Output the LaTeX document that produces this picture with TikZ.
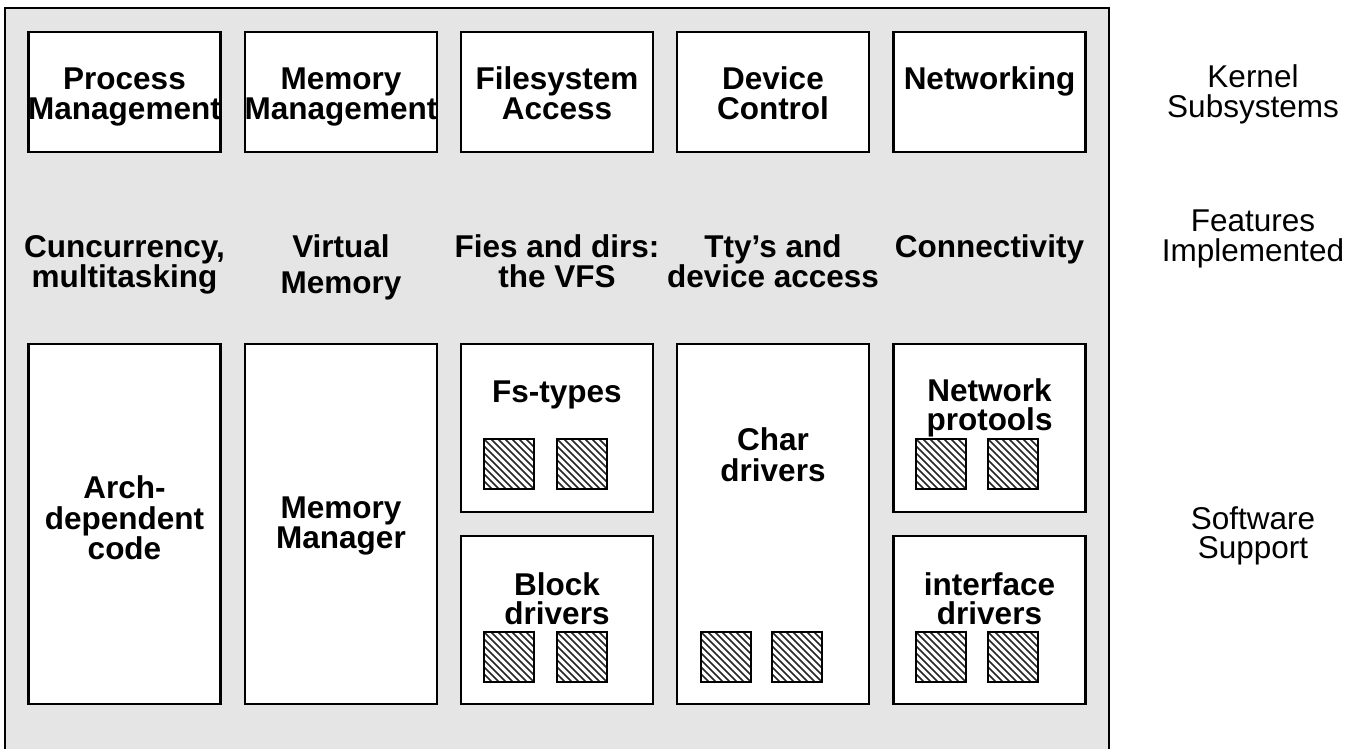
\documentclass[tikz,border=0pt]{standalone}
\usepackage{fontspec}
\setmainfont{Liberation Sans}
\definecolor{bggray}{RGB}{229,229,229}
\newcommand\firststrut{\rule{0pt}{24pt}}
\tikzset{
  box/.style={draw=black, line width=2.5pt, fill=white, inner sep=0pt, outer sep=0pt, minimum width=192pt},
  hatchbox/.style={draw=black, line width=2.2pt, fill=white, inner sep=0pt, outer sep=0pt,
    minimum width=50pt, minimum height=50pt,
    path picture={\foreach \k in {-56,-49,...,56} {\draw[line width=1.6pt, black!85]
      ([xshift=\k pt]path picture bounding box.north west) -- ++(60pt,-60pt);}}},
  lbl/.style={anchor=north, inner sep=0pt, outer sep=0pt, align=center,
    font=\fontsize{31.5}{29}\selectfont\bfseries},
  side/.style={anchor=north, inner sep=0pt, outer sep=0pt, align=center,
    font=\fontsize{31.5}{29.5}\selectfont},
}
\begin{document}
\lineskiplimit=-50pt
\begin{tikzpicture}[x=1pt,y=-1pt]
\useasboundingbox (0,0) rectangle (1361,749);
\clip (0,0) rectangle (1361,749);
\fill[white] (0,0) rectangle (1361,749);
% outer frame
\node[draw=black, line width=2.5pt, fill=bggray, inner sep=0pt, minimum width=1104pt, minimum height=800pt] (frame) at (557,408) {};

% top row
\node[box, minimum height=120pt] (pm) at (124.5,92) {};
\node[box, minimum height=120pt] (mm) at (341,92) {};
\node[box, minimum height=120pt] (fa) at (557,92) {};
\node[box, minimum height=120pt] (dc) at (773,92) {};
\node[box, minimum height=120pt] (nw) at (989.5,92) {};

% bottom row
\node[box, minimum height=360pt] (arch) at (124.5,524) {};
\node[box, minimum height=360pt] (mman) at (341,524) {};
\node[box, minimum height=168pt] (fst) at (557,428) {};
\node[box, minimum height=168pt] (blk) at (557,620) {};
\node[box, minimum height=360pt] (chr) at (773,524) {};
\node[box, minimum height=168pt] (np) at (989.5,428) {};
\node[box, minimum height=168pt] (ifd) at (989.5,620) {};

% hatched squares
\node[hatchbox] (h1) at (509,464) {};
\node[hatchbox] (h2) at (582,464) {};
\node[hatchbox] (h3) at (509,657) {};
\node[hatchbox] (h4) at (582,657) {};
\node[hatchbox] (h5) at (726,657) {};
\node[hatchbox] (h6) at (797,657) {};
\node[hatchbox] (h7) at (941,464) {};
\node[hatchbox] (h8) at (1013,464) {};
\node[hatchbox] (h9) at (941,657) {};
\node[hatchbox] (h10) at (1013,657) {};

% top row texts (first baseline 90)
\node[lbl] (tpm) at (124.5,66) {\firststrut Process\\[1pt]Management};
\node[lbl] (tmm) at (341,66) {\firststrut Memory\\[1pt]Management};
\node[lbl] (tfa) at (557,66) {\firststrut Filesystem\\[1pt]Access};
\node[lbl] (tdc) at (773,66) {\firststrut Device\\[1pt]Control};
\node[lbl] (tnw) at (989.5,66) {\firststrut Networking};

% features row (first baseline 257)
\node[lbl] (f1) at (124.5,233) {\firststrut Cuncurrency,\\[1pt]multitasking};
\node[lbl] (f2) at (341,233) {\firststrut Virtual\\[7pt]Memory};
\node[lbl] (f3) at (557,233) {\firststrut Fies and dirs:\\[1pt]the VFS};
\node[lbl] (f4) at (773,233) {\firststrut Tty’s and\\[1pt]device access};
\node[lbl] (f5) at (989.5,233) {\firststrut Connectivity};

% bottom row texts
\node[lbl] (tarch) at (124.5,474) {\firststrut Arch-\\[2pt]dependent\\[1pt]code};
\node[lbl] (tmman) at (341,494) {\firststrut Memory\\[1pt]Manager};
\node[lbl] (tfst) at (557,378) {\firststrut Fs-types};
\node[lbl] (tblk) at (557,571) {\firststrut Block\\drivers};
\node[lbl] (tchr) at (773,426) {\firststrut Char\\[2pt]drivers};
\node[lbl] (tnp) at (989.5,377) {\firststrut Network\\protools};
\node[lbl] (tifd) at (989.5,571) {\firststrut interface\\drivers};

% side labels
\node[side] (s1) at (1253,64) {\firststrut Kernel\\Subsystems};
\node[side] (s2) at (1253,208) {\firststrut Features\\Implemented};
\node[side] (s3) at (1253,505) {\firststrut Software\\Support};
\end{tikzpicture}
\end{document}
